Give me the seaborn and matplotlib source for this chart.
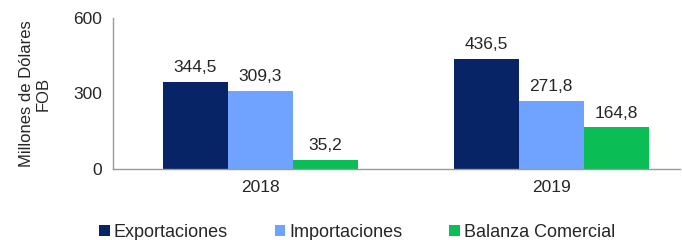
import numpy as np
import pandas as pd
import matplotlib
matplotlib.use("Agg")
import matplotlib.pyplot as plt
import seaborn as sns

# datos
anios = ["2018", "2019"]
series = ["Exportaciones", "Importaciones", "Balanza Comercial"]
exportaciones = [344.5, 436.5]
importaciones = [309.3, 271.8]
balanza = [35.2, 164.8]
colores = ["#062466", "#6FA3FF", "#0BBD55"]

df = pd.DataFrame({
    "anio": anios * 3,
    "serie": [s for s in series for _ in anios],
    "valor": exportaciones + importaciones + balanza,
})

sns.set_style("white")
plt.rcParams["font.family"] = ["Liberation Sans", "DejaVu Sans"]

fig, ax = plt.subplots(figsize=(6.82, 2.4), dpi=100)
sns.barplot(data=df, x="anio", y="valor", hue="serie", palette=colores,
            width=0.67, gap=0, saturation=1, linewidth=0, ax=ax, legend=True)

# etiquetas con coma decimal
for cont in ax.containers:
    ax.bar_label(cont, labels=[f"{v:.1f}".replace(".", ",") for v in cont.datavalues],
                 padding=5, fontsize=12.5)

ax.set_ylim(0, 600)
ax.set_yticks([0, 300, 600])
ax.set_xlim(-0.505, 1.443)
ax.set_xlabel("")
ax.set_ylabel("Millones de Dólares\nFOB", fontsize=12, labelpad=16, linespacing=1.2)
ax.tick_params(axis="both", length=0, labelsize=12.5, pad=8)
for s in ["top", "right"]:
    ax.spines[s].set_visible(False)
for s in ["left", "bottom"]:
    ax.spines[s].set_color("#999999")
    ax.spines[s].set_linewidth(1)

handles, labels = ax.get_legend_handles_labels()
ax.legend(handles, labels, loc="center", bbox_to_anchor=(0.43, -0.42), ncol=3,
          frameon=False, fontsize=13, handlelength=0.6, handleheight=0.6,
          handletextpad=0.2, columnspacing=2.6)

fig.subplots_adjust(left=0.166, right=0.997, top=0.925, bottom=0.296)
fig.savefig("out.png", dpi=100)
